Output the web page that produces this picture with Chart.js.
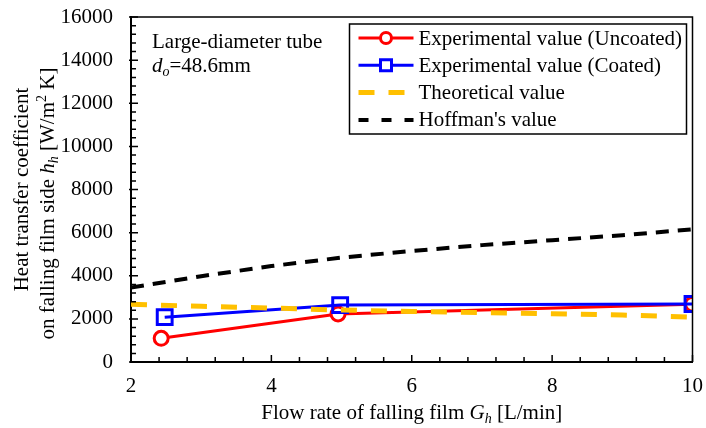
<!DOCTYPE html>
<html>
<head>
<meta charset="utf-8">
<script src="https://cdn.jsdelivr.net/npm/chart.js@4.4.1/dist/chart.umd.min.js"></script>
<style>
    html, body { margin: 0; padding: 0; background: #fff; }
</style>
</head>
<body>
<canvas id="chart" width="706" height="428"></canvas>
<script>
// values
const flowUncoated = [2.43, 4.95, 10]
const hUncoated = [1100, 2230, 2680]
const flowCoated = [2.48, 4.98, 10]
const hCoated = [2080, 2640, 2690]
const flowModel = [2, 3, 4, 5, 6, 7, 8, 9, 10]
const hTheory = [2680, 2580, 2500, 2410, 2340, 2290, 2240, 2180, 2080]
const hHoffman = [3450, 3980, 4450, 4840, 5150, 5420, 5650, 5880, 6150]
const xTicks = [2, 4, 6, 8, 10]
const yTicks = [0, 2000, 4000, 6000, 8000, 10000, 12000, 14000, 16000]
const seriesNames = ['Experimental value (Uncoated)', 'Experimental value (Coated)', 'Theoretical value', "Hoffman's value"]

const FONT = '"Liberation Serif", "Times New Roman", serif'
const FS = 21
const FS_SMALL = 14
const RED = '#ff0000'
const BLUE = '#0000ff'
const GOLD = '#ffc000'
const BLACK = '#000000'

const toPoints = (xs, ys) => xs.map((x, i) => ({ x: x, y: ys[i] }))

// no automatic room for overflowing tick labels, the plot box is fixed
const noPad = s => {
    s.paddingLeft = 0
    s.paddingRight = 0
    s.paddingTop = 0
    s.paddingBottom = 0
}

// draws a line of text made of parts with their own style (italic, sub, sup)
function drawRich(ctx, parts, x, y, align) {
    let total = 0
    parts.forEach(p => {
        const size = p.small ? FS_SMALL : FS
        ctx.font = `${p.italic ? 'italic ' : ''}${size}px ${FONT}`
        p.w = ctx.measureText(p.t).width
        total += p.w
    })
    let cx = align === 'center' ? x - total / 2 : x
    ctx.textAlign = 'left'
    ctx.textBaseline = 'alphabetic'
    parts.forEach(p => {
        const size = p.small ? FS_SMALL : FS
        ctx.font = `${p.italic ? 'italic ' : ''}${size}px ${FONT}`
        ctx.fillText(p.t, cx, y + (p.dy || 0))
        cx += p.w
    })
}

function legendSample(ctx, i, x0, x1, yc) {
    ctx.save()
    if (i === 0 || i === 1) {
        ctx.strokeStyle = i === 0 ? RED : BLUE
        ctx.lineWidth = 3
        ctx.beginPath(); ctx.moveTo(x0, yc); ctx.lineTo(x1, yc); ctx.stroke()
        const mx = (x0 + x1) / 2
        ctx.fillStyle = '#fff'
        ctx.beginPath()
        if (i === 0) ctx.arc(mx, yc, 5.5, 0, Math.PI * 2)
        else ctx.rect(mx - 5.5, yc - 5.5, 11, 11)
        ctx.fill(); ctx.stroke()
    } else {
        ctx.strokeStyle = i === 2 ? GOLD : BLACK
        ctx.lineWidth = i === 2 ? 5 : 4
        ctx.setLineDash(i === 2 ? [16, 14] : [10, 13])
        ctx.beginPath(); ctx.moveTo(x0, yc); ctx.lineTo(x1, yc); ctx.stroke()
    }
    ctx.restore()
}

const decorPlugin = {
    id: 'decor',
    afterDraw(chart) {
        const { ctx, chartArea: a, scales } = chart
        const xs = scales.x
        const ys = scales.y
        ctx.save()
        ctx.fillStyle = BLACK
        ctx.strokeStyle = BLACK

        // top and right frame
        ctx.lineWidth = 1.5
        ctx.beginPath()
        ctx.moveTo(a.left, a.top); ctx.lineTo(a.right, a.top); ctx.lineTo(a.right, a.bottom)
        ctx.stroke()

        // inner ticks
        ctx.lineWidth = 1.5
        ctx.beginPath()
        for (let k = 0; k <= 20; k++) {
            const px = xs.getPixelForValue(2 + k * 0.4)
            const len = k % 5 === 0 ? 7 : 5
            ctx.moveTo(px, a.bottom); ctx.lineTo(px, a.bottom - len)
        }
        for (let k = 0; k <= 40; k++) {
            const py = ys.getPixelForValue(k * 400)
            const len = k % 5 === 0 ? 7 : 5
            ctx.moveTo(a.left - (k % 5 === 0 ? 2 : 0), py); ctx.lineTo(a.left + len, py)
        }
        ctx.stroke()

        // annotation
        drawRich(ctx, [{ t: 'Large-diameter tube' }], a.left + 21, a.top + 31, 'left')
        drawRich(ctx, [{ t: 'd', italic: true }, { t: 'o', italic: true, small: true, dy: 4 }, { t: '=48.6mm' }], a.left + 21, a.top + 55, 'left')

        // legend box
        const lx = a.right - 343
        const ly = a.top + 7
        ctx.lineWidth = 1.5
        ctx.strokeRect(lx, ly, 337, 110)
        seriesNames.forEach((name, i) => {
            const yc = ly + 14 + i * 27.3
            legendSample(ctx, i, lx + 9, lx + 64, yc)
            ctx.fillStyle = BLACK
            ctx.font = `${FS}px ${FONT}`
            ctx.textAlign = 'left'
            ctx.textBaseline = 'middle'
            ctx.fillText(name, lx + 69, yc + 1)
        })

        // axis titles
        drawRich(ctx, [
            { t: 'Flow rate of falling film ' },
            { t: 'G', italic: true },
            { t: 'h', italic: true, small: true, dy: 4 },
            { t: ' [L/min]' }
        ], (a.left + a.right) / 2, 419, 'center')

        const cy = (a.top + a.bottom) / 2
        ctx.translate(0, cy)
        ctx.rotate(-Math.PI / 2)
        drawRich(ctx, [{ t: 'Heat transfer coefficient' }], 0, 28, 'center')
        drawRich(ctx, [
            { t: 'on falling film side ' },
            { t: 'h', italic: true },
            { t: 'h', italic: true, small: true, dy: 4 },
            { t: ' [W/m' },
            { t: '2', small: true, dy: -8 },
            { t: ' K]' }
        ], -14, 54, 'center')
        ctx.restore()
    }
}

new Chart(document.getElementById('chart'), {
    type: 'line',
    data: {
        datasets: [
            {
                label: seriesNames[0],
                data: toPoints(flowUncoated, hUncoated),
                borderColor: RED,
                borderWidth: 3,
                pointStyle: 'circle',
                pointRadius: 7,
                pointBorderWidth: 3,
                pointBorderColor: RED,
                pointBackgroundColor: '#fff',
                order: 3
            },
            {
                label: seriesNames[1],
                data: toPoints(flowCoated, hCoated),
                borderColor: BLUE,
                borderWidth: 3,
                pointStyle: 'rect',
                pointRadius: 10.5,
                pointBorderWidth: 3,
                pointBorderColor: BLUE,
                pointBackgroundColor: 'rgba(255,255,255,0)',
                order: 2
            },
            {
                label: seriesNames[2],
                data: toPoints(flowModel, hTheory),
                borderColor: GOLD,
                borderWidth: 5,
                borderDash: [16, 14],
                pointRadius: 0,
                order: 1
            },
            {
                label: seriesNames[3],
                data: toPoints(flowModel, hHoffman),
                borderColor: BLACK,
                borderWidth: 4,
                borderDash: [13, 9],
                pointRadius: 0,
                order: 4
            }
        ]
    },
    options: {
        responsive: false,
        animation: false,
        devicePixelRatio: 1,
        layout: { padding: { top: 17, right: 10, left: 0, bottom: 0 } },
        plugins: {
            legend: { display: false },
            tooltip: { enabled: false }
        },
        scales: {
            x: {
                type: 'linear',
                min: 2,
                max: 10,
                afterFit: s => { s.height = 66; noPad(s) },
                afterBuildTicks: s => { s.ticks = xTicks.map(v => ({ value: v })) },
                grid: { display: false, drawTicks: false },
                border: { display: true, color: BLACK, width: 2 },
                ticks: { color: BLACK, font: { family: FONT, size: FS }, padding: 12, maxRotation: 0 }
            },
            y: {
                type: 'linear',
                min: 0,
                max: 16000,
                afterFit: s => { s.width = 131; noPad(s) },
                afterBuildTicks: s => { s.ticks = yTicks.map(v => ({ value: v })) },
                grid: { display: false, drawTicks: false },
                border: { display: true, color: BLACK, width: 2 },
                ticks: { color: BLACK, font: { family: FONT, size: FS }, padding: 18, callback: v => String(v) }
            }
        }
    },
    plugins: [decorPlugin]
})
</script>
</body>
</html>
